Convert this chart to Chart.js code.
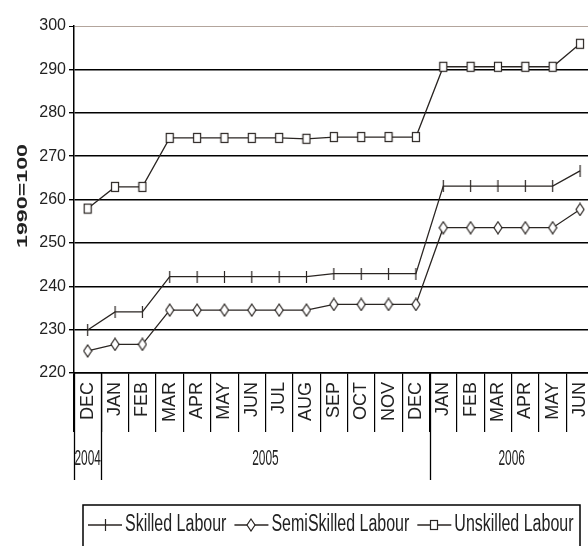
<!DOCTYPE html>
<html>
<head>
<meta charset="utf-8">
<script src="https://cdn.jsdelivr.net/npm/chart.js@4.4.1/dist/chart.umd.min.js"></script>
<style>
  html, body { margin: 0; padding: 0; background: #fff; overflow: hidden; }
  #wrap { width: 600px; height: 546px; }
</style>
</head>
<body>
<div id="wrap"><canvas id="chart" width="600" height="546"></canvas></div>
<script>
// months along the x axis, grouped into years underneath
const months = ['DEC', 'JAN', 'FEB', 'MAR', 'APR', 'MAY', 'JUN', 'JUL', 'AUG', 'SEP', 'OCT', 'NOV', 'DEC',
                'JAN', 'FEB', 'MAR', 'APR', 'MAY', 'JUN'];
const years = ['2004', '2005', '2006'];
const yearFirst = [0, 1, 13];
const yearLast = [0, 12, 18];

const seriesNames = ['Skilled Labour', 'SemiSkilled Labour', 'Unskilled Labour'];
const skilled = [229.9, 234.1, 234.1, 242.2, 242.2, 242.2, 242.2, 242.2, 242.2, 242.9, 242.9, 242.9, 242.9,
                 263.1, 263.1, 263.1, 263.1, 263.1, 266.6];
const semiSkilled = [225.1, 226.6, 226.6, 234.5, 234.5, 234.5, 234.5, 234.5, 234.5, 235.8, 235.8, 235.8, 235.8,
                     253.5, 253.5, 253.5, 253.5, 253.5, 257.7];
const unskilled = [257.9, 262.9, 262.9, 274.2, 274.2, 274.2, 274.2, 274.2, 274.0, 274.4, 274.4, 274.4, 274.4,
                   290.6, 290.6, 290.6, 290.6, 290.6, 295.9];

const yMin = 220;
const yMax = 300;
const yStep = 10;

const INK = '#2a2522';
const SANS = '"Liberation Sans", Arial, sans-serif';

function makeMarker(w, h, draw) {
    const c = document.createElement('canvas');
    c.width = w;
    c.height = h;
    const g = c.getContext('2d');
    g.strokeStyle = INK;
    g.fillStyle = '#fff';
    g.lineWidth = 1.2;
    draw(g);
    return c;
}

const tickMarker = makeMarker(3, 12, g => {
    g.beginPath(); g.moveTo(1.5, 0); g.lineTo(1.5, 12); g.stroke();
});
const diamondMarker = makeMarker(10, 14, g => {
    g.beginPath(); g.moveTo(5, 1); g.lineTo(9, 7); g.lineTo(5, 13); g.lineTo(1, 7); g.closePath();
    g.fill(); g.stroke();
});
const squareMarker = makeMarker(10, 12, g => {
    g.fillRect(1, 1, 8, 10); g.strokeRect(1.5, 1.5, 7, 9);
});
const markers = [tickMarker, diamondMarker, squareMarker];

// y title, year row and legend box are drawn here
const decorPlugin = {
    id: 'decor',
    afterDraw(chart) {
        const ctx = chart.ctx;
        const xs = chart.scales.x;
        const area = chart.chartArea;
        const half = xs.width / months.length / 2;

        ctx.save();
        ctx.fillStyle = '#222';
        ctx.textAlign = 'center';
        ctx.textBaseline = 'middle';
        ctx.translate(23, 196);
        ctx.rotate(-Math.PI / 2);
        ctx.scale(1.55, 1);
        ctx.font = 'bold 15px ' + SANS;
        ctx.fillText('1990=100', 0, 0);
        ctx.restore();

        ctx.save();
        ctx.strokeStyle = '#000';
        ctx.lineWidth = 1.3;
        yearFirst.forEach((f, i) => {
            const left = xs.getPixelForValue(f) - half;
            const right = xs.getPixelForValue(yearLast[i]) + half;
            ctx.beginPath();
            ctx.moveTo(Math.round(left) + 0.5, area.bottom);
            ctx.lineTo(Math.round(left) + 0.5, 480);
            ctx.stroke();

            ctx.save();
            ctx.fillStyle = '#222';
            ctx.textAlign = 'center';
            ctx.textBaseline = 'middle';
            ctx.font = '14px ' + SANS;
            ctx.translate((left + right) / 2, 459);
            ctx.scale(0.85, 1.6);
            ctx.fillText(years[i], 0, 0);
            ctx.restore();
        });
        ctx.restore();

        // legend
        ctx.save();
        ctx.strokeStyle = '#000';
        ctx.lineWidth = 1.5;
        ctx.strokeRect(83, 505, 497, 60);
        ctx.font = '16.5px ' + SANS;
        ctx.textBaseline = 'middle';
        ctx.textAlign = 'left';
        let x = 88;
        const ly = 525;
        seriesNames.forEach((name, i) => {
            ctx.strokeStyle = INK;
            ctx.lineWidth = 1.3;
            ctx.beginPath();
            ctx.moveTo(x, ly);
            ctx.lineTo(x + 34, ly);
            ctx.stroke();
            const m = markers[i];
            ctx.drawImage(m, Math.round(x + 17 - m.width / 2), Math.round(ly - m.height / 2));
            ctx.save();
            ctx.fillStyle = '#222';
            ctx.translate(x + 37, ly);
            ctx.scale(0.97, 1.4);
            ctx.fillText(name, 0, 0);
            ctx.restore();
            x += 37 + ctx.measureText(name).width * 0.97 + 8;
        });
        ctx.restore();
    }
};

function lineSet(label, data, marker) {
    return {
        label: label,
        data: data,
        borderColor: INK,
        borderWidth: 1.3,
        pointStyle: marker,
        pointRadius: 5,
        pointHoverRadius: 5,
        fill: false,
        tension: 0
    };
}

new Chart(document.getElementById('chart'), {
    type: 'line',
    data: {
        labels: months,
        datasets: [
            lineSet(seriesNames[0], skilled, tickMarker),
            lineSet(seriesNames[1], semiSkilled, diamondMarker),
            lineSet(seriesNames[2], unskilled, squareMarker)
        ]
    },
    options: {
        responsive: false,
        animation: false,
        layout: { padding: { top: 26, right: 5, left: 0, bottom: 0 } },
        plugins: {
            legend: { display: false },
            tooltip: { enabled: false }
        },
        scales: {
            x: {
                offset: true,
                grid: {
                    offset: true,
                    drawOnChartArea: false,
                    color: '#000',
                    lineWidth: 1.2,
                    tickLength: 59
                },
                border: { color: '#000', width: 1.5 },
                ticks: {
                    autoSkip: false,
                    minRotation: 90,
                    maxRotation: 90,
                    padding: -50,
                    color: '#222',
                    font: { family: SANS, size: 18 }
                },
                afterFit: s => { s.height = 173; }
            },
            y: {
                min: yMin,
                max: yMax,
                ticks: {
                    stepSize: yStep,
                    padding: 3,
                    color: '#222',
                    font: { family: SANS, size: 16 }
                },
                grid: {
                    color: c => (c.tick && c.tick.value === yMax) ? '#b3a59c' : '#000',
                    lineWidth: c => (c.tick && c.tick.value === yMax) ? 1 : 1.4,
                    tickColor: '#000',
                    tickLength: 5
                },
                border: { color: '#000', width: 1.5 },
                afterFit: s => { s.width = 74; }
            }
        }
    },
    plugins: [decorPlugin]
});
</script>
</body>
</html>
